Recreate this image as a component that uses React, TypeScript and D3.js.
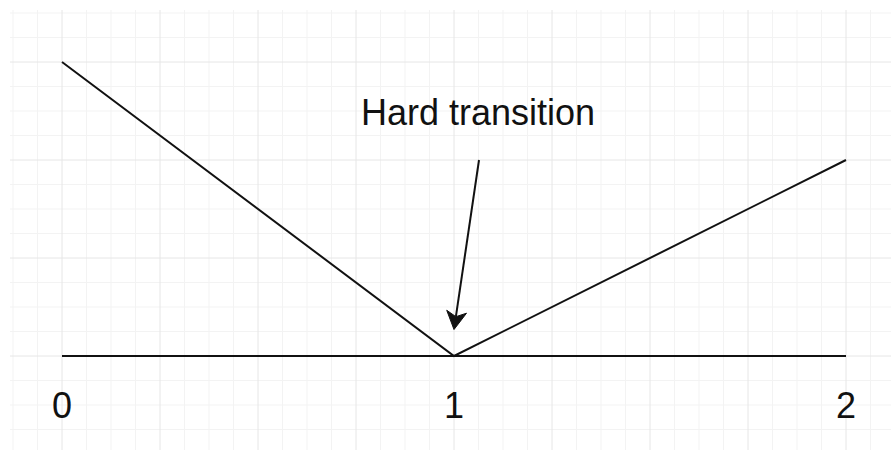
import React from "react";
import * as d3 from "d3";

const W = 891;
const H = 450;

// Data
const xTicks = [0, 1, 2];
const xTickLabels = ["0", "1", "2"];
const seriesX = [0, 1, 2];
const seriesY = [3, 0, 2];
const baselineX = [0, 2];
const baselineY = [0, 0];
const annotationText = "Hard transition";
const annotationFrom = { x: 1.0638, y: 2 }; // data coords for arrow tail
const annotationTo = { x: 1, y: 0.27 }; // data coords for arrow tip

export default function App() {
  const x = d3.scaleLinear().domain([0, 2]).range([62, 846]);
  const y = d3.scaleLinear().domain([0, 3]).range([356, 62]);

  const gridLeft = 10;
  const gridTop = 10;

  // grid lines computed from scales
  const xMinorStep = 0.0625;
  const yMinorStep = 0.25;
  const xs: { p: number; major: boolean }[] = [];
  const xStart = Math.ceil(x.invert(gridLeft) / xMinorStep);
  const xEnd = Math.floor(x.invert(W) / xMinorStep);
  for (let i = xStart; i <= xEnd; i++) {
    xs.push({ p: x(i * xMinorStep), major: i % 4 === 0 });
  }
  const ys: { p: number; major: boolean }[] = [];
  const yStart = Math.ceil(y.invert(H) / yMinorStep);
  const yEnd = Math.floor(y.invert(gridTop) / yMinorStep);
  for (let i = yStart; i <= yEnd; i++) {
    ys.push({ p: y(i * yMinorStep), major: i % 4 === 0 });
  }

  const line = d3
    .line<number>()
    .x((_, i) => x(seriesX[i]))
    .y((d) => y(d));

  const baseline = d3
    .line<number>()
    .x((_, i) => x(baselineX[i]))
    .y((d) => y(d));

  // arrow
  const ax1 = x(annotationFrom.x);
  const ay1 = y(annotationFrom.y);
  const ax2 = x(annotationTo.x);
  const ay2 = y(annotationTo.y);
  const dx = ax2 - ax1;
  const dy = ay2 - ay1;
  const len = Math.hypot(dx, dy);
  const ux = dx / len;
  const uy = dy / len;
  const px = -uy;
  const py = ux;
  const headLen = 18;
  const headHalf = 10;
  const notch = 5;
  const bx = ax2 - ux * headLen;
  const by = ay2 - uy * headLen;
  const nx = ax2 - ux * (headLen - notch);
  const ny = ay2 - uy * (headLen - notch);
  const head = [
    [ax2, ay2],
    [bx + px * headHalf, by + py * headHalf],
    [nx, ny],
    [bx - px * headHalf, by - py * headHalf],
  ]
    .map((p) => p.join(","))
    .join(" ");

  const font = "'Liberation Sans', Arial, sans-serif";

  return (
    <svg
      width={W}
      height={H}
      style={{ position: "absolute", left: 0, top: 0, background: "#fff" }}
    >
      <rect x={0} y={0} width={W} height={H} fill="#fff" />
      <g>
        {xs
          .filter((g) => !g.major)
          .map((g, i) => (
            <line key={"xm" + i} x1={g.p} x2={g.p} y1={gridTop} y2={H} stroke="#f3f3f3" strokeWidth={1} />
          ))}
        {ys
          .filter((g) => !g.major)
          .map((g, i) => (
            <line key={"ym" + i} x1={gridLeft} x2={W} y1={g.p} y2={g.p} stroke="#f3f3f3" strokeWidth={1} />
          ))}
        {xs
          .filter((g) => g.major)
          .map((g, i) => (
            <line key={"xM" + i} x1={g.p} x2={g.p} y1={gridTop} y2={H} stroke="#e6e6e6" strokeWidth={1} />
          ))}
        {ys
          .filter((g) => g.major)
          .map((g, i) => (
            <line key={"yM" + i} x1={gridLeft} x2={W} y1={g.p} y2={g.p} stroke="#e6e6e6" strokeWidth={1} />
          ))}
      </g>

      <path d={baseline(baselineY) || ""} fill="none" stroke="#111" strokeWidth={2} />
      <path d={line(seriesY) || ""} fill="none" stroke="#111" strokeWidth={2} strokeLinejoin="miter" />

      <line x1={ax1} y1={ay1} x2={nx} y2={ny} stroke="#111" strokeWidth={2} />
      <polygon points={head} fill="#111" stroke="#111" strokeWidth={1} />

      <text
        x={478}
        y={125}
        textAnchor="middle"
        fontFamily={font}
        fontSize={36}
        fill="#111"
      >
        {annotationText}
      </text>

      {xTicks.map((t, i) => (
        <text
          key={t}
          x={x(t)}
          y={418}
          textAnchor="middle"
          fontFamily={font}
          fontSize={36}
          fill="#111"
        >
          {xTickLabels[i]}
        </text>
      ))}
    </svg>
  );
}
